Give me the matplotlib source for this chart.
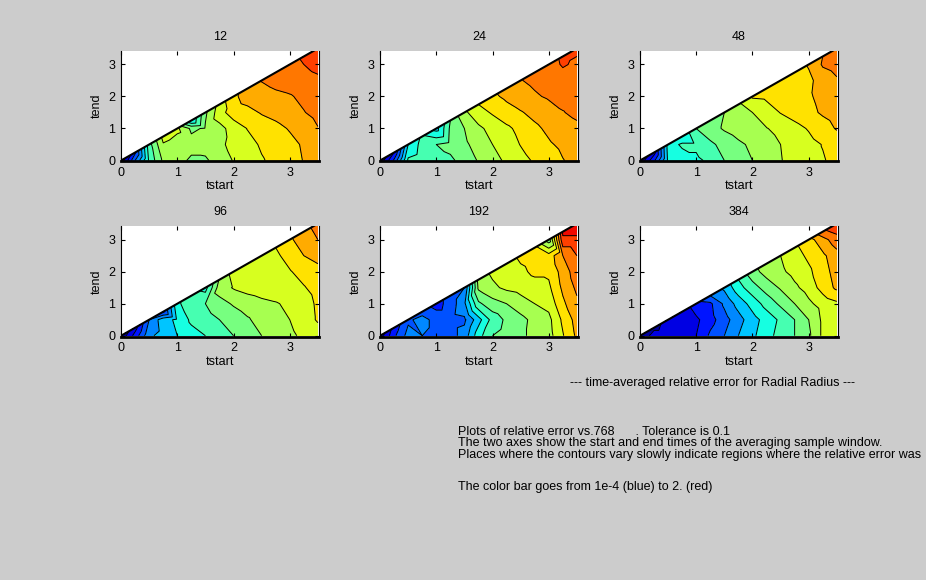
import numpy as np
import matplotlib
matplotlib.use('Agg')
import matplotlib.pyplot as plt
import matplotlib.tri as mtri
from matplotlib.colors import Normalize

plt.rcParams['font.family'] = ['Liberation Sans', 'DejaVu Sans']

# sample points of the averaging window (tstart along x, tend along y)
tstart_grid = [0.0, 0.25, 0.5, 0.75, 1.0, 1.25, 1.5, 1.75, 2.0, 2.25, 2.5, 2.75, 3.0, 3.25, 3.5]
tend_rows = [0.0, 0.5, 1.0, 1.5, 2.0, 2.5, 3.0]
sample_counts = [12, 24, 48, 96, 192, 384]

# log10 of the time-averaged relative error.
# one list per tend row (tstart > tend), plus the values on the diagonal tstart == tend
err12_rows = [
    [-3.0, -2.2, -1.7, -1.65, -1.8, -1.8, -1.6, -1.49, -1.37, -1.27, -1.19, -1.09, -0.99, -0.9],
    [-1.52, -1.6, -1.65, -1.62, -1.55, -1.43, -1.33, -1.22, -1.15, -1.07, -0.97, -0.88],
    [-1.8, -1.72, -1.58, -1.4, -1.24, -1.13, -1.07, -0.98, -0.88, -0.76],
    [-1.35, -1.12, -1.07, -0.98, -0.92, -0.84, -0.76, -0.68],
    [-0.9, -0.85, -0.8, -0.77, -0.7, -0.62],
    [-0.68, -0.64, -0.6, -0.55],
    [-0.5, -0.42],
]
err12_diag = [-3.95, -3.3, -2.1, -1.42, -1.45, -2.5, -1.8, -1.4, -1.05, -0.9, -0.74, -0.68, -0.62, -0.45, -0.38]

err24_rows = [
    [-3.2, -2.2, -2.1, -2.1, -2.05, -1.9, -1.73, -1.58, -1.46, -1.33, -1.22, -1.12, -1.01, -0.93],
    [-2.15, -2.0, -1.92, -1.8, -1.65, -1.5, -1.37, -1.24, -1.12, -1.03, -0.95, -0.86],
    [-1.95, -1.75, -1.55, -1.42, -1.3, -1.18, -1.05, -0.95, -0.85, -0.8],
    [-1.35, -1.22, -1.1, -1.02, -0.93, -0.85, -0.76, -0.7],
    [-0.95, -0.85, -0.78, -0.72, -0.68, -0.65],
    [-0.7, -0.66, -0.62, -0.6],
    [-0.47, -0.55],
]
err24_diag = [-3.95, -3.5, -2.5, -2.2, -2.6, -2.0, -1.55, -1.25, -1.05, -0.9, -0.76, -0.68, -0.62, -0.45, -0.45]

err48_rows = [
    [-3.3, -2.45, -2.4, -2.3, -2.2, -2.0, -1.85, -1.75, -1.62, -1.51, -1.43, -1.33, -1.27, -1.18],
    [-2.2, -2.2, -2.05, -1.92, -1.8, -1.7, -1.6, -1.5, -1.42, -1.33, -1.24, -1.15],
    [-1.85, -1.72, -1.63, -1.57, -1.51, -1.43, -1.33, -1.23, -1.1, -0.98],
    [-1.6, -1.5, -1.37, -1.24, -1.15, -1.06, -0.97, -0.9],
    [-1.2, -1.13, -1.08, -1.03, -0.93, -0.85],
    [-1.1, -1.05, -0.9, -0.78],
    [-0.72, -0.65],
]
err48_diag = [-3.95, -3.6, -2.4, -2.5, -2.0, -1.85, -1.75, -1.55, -1.22, -1.18, -1.12, -1.12, -0.98, -0.75, -0.6]

err96_rows = [
    [-3.4, -2.8, -2.65, -2.5, -2.35, -2.25, -2.1, -2.0, -1.88, -1.75, -1.65, -1.55, -1.45, -1.38],
    [-2.6, -2.45, -2.2, -2.1, -2.0, -1.9, -1.78, -1.65, -1.57, -1.5, -1.38, -1.22],
    [-2.1, -2.0, -1.85, -1.72, -1.62, -1.56, -1.52, -1.45, -1.38, -1.2],
    [-1.62, -1.48, -1.42, -1.38, -1.35, -1.3, -1.27, -1.15],
    [-1.35, -1.32, -1.3, -1.27, -1.15, -1.05],
    [-1.3, -1.15, -1.0, -0.95],
    [-0.85, -0.75],
]
err96_diag = [-3.95, -3.6, -3.0, -3.3, -2.3, -2.1, -2.35, -1.72, -1.4, -1.35, -1.33, -1.25, -1.05, -0.8, -0.7]

err192_rows = [
    [-3.3, -2.9, -3.0, -3.1, -3.1, -2.9, -2.35, -2.0, -1.9, -1.8, -1.68, -1.6, -1.27, -0.95],
    [-2.9, -3.1, -3.1, -3.05, -2.6, -2.15, -1.95, -1.82, -1.68, -1.57, -1.2, -0.9],
    [-3.15, -2.8, -2.05, -1.85, -1.75, -1.62, -1.5, -1.42, -1.05, -0.8],
    [-1.7, -1.55, -1.45, -1.4, -1.35, -1.3, -0.95, -0.7],
    [-1.35, -1.3, -1.2, -1.2, -0.9, -0.6],
    [-1.15, -1.15, -0.75, -0.5],
    [-0.3, -0.3],
]
err192_diag = [-3.9, -3.4, -3.05, -3.1, -3.35, -3.15, -3.0, -1.65, -1.45, -1.38, -1.2, -1.15, -1.9, -0.2, -0.1]

err384_rows = [
    [-3.65, -3.65, -3.62, -3.5, -3.2, -3.0, -2.75, -2.55, -2.35, -2.15, -2.0, -1.8, -1.45, -1.3],
    [-3.7, -3.55, -3.35, -3.1, -2.85, -2.6, -2.4, -2.2, -2.0, -1.75, -1.45, -1.3],
    [-3.3, -2.95, -2.65, -2.4, -2.15, -1.95, -1.75, -1.55, -1.4, -1.3],
    [-2.35, -2.1, -1.9, -1.72, -1.55, -1.4, -1.15, -0.95],
    [-1.65, -1.55, -1.42, -1.3, -1.1, -0.9],
    [-1.35, -1.2, -1.05, -0.85],
    [-0.85, -0.6],
]
err384_diag = [-3.95, -3.8, -3.7, -3.7, -3.35, -3.0, -2.7, -2.25, -1.85, -1.6, -1.5, -1.3, -1.1, -0.55, -0.3]

panels = [
    (err12_rows, err12_diag), (err24_rows, err24_diag), (err48_rows, err48_diag),
    (err96_rows, err96_diag), (err192_rows, err192_diag), (err384_rows, err384_diag),
]


def window_points(rows, diag):
    xs, ys, zs = [], [], []
    for t_end, row in zip(tend_rows, rows):
        starts = [t for t in tstart_grid if t > t_end]
        xs += starts
        ys += [t_end] * len(starts)
        zs += row
    xs += tstart_grid
    ys += tstart_grid
    zs += diag
    return np.array(xs), np.array(ys), np.array(zs)


# color bar runs from 1e-4 (blue) to 2 (red)
norm = Normalize(vmin=np.log10(1e-4), vmax=np.log10(2.0))
levels = np.arange(-4.0, 0.3, 0.25)

fig = plt.figure(figsize=(9.26, 5.8), dpi=100, facecolor='#cccccc')

lefts = [0.1307, 0.4104, 0.6911]
bottoms = [0.7216, 0.4195]
w, h = 0.2138, 0.191

for i, (rows, diag) in enumerate(panels):
    ax = fig.add_axes([lefts[i % 3], bottoms[i // 3], w, h])
    ax.set_facecolor('white')
    x, y, z = window_points(rows, diag)
    tri = mtri.Triangulation(x, y)
    ax.tricontourf(tri, z, levels=levels, cmap='jet', norm=norm)
    ax.tricontour(tri, z, levels=levels, colors='k', linewidths=0.7,
                  linestyles='solid')
    ax.plot(tstart_grid, tstart_grid, color='k', lw=1.5)

    ax.set_xlim(0, 3.52)
    ax.set_ylim(-0.03, 3.43)
    ax.set_xticks([0, 1, 2, 3])
    ax.set_yticks([0, 1, 2, 3])
    ax.tick_params(direction='in', length=3, width=0.8, top=True, right=True,
                   labelsize=9, pad=4, colors='k')
    for side in ['left', 'right']:
        ax.spines[side].set_linewidth(0.8)
    ax.spines['top'].set_visible(False)
    ax.spines['bottom'].set_linewidth(2)

    ax.set_title(str(sample_counts[i]), fontsize=9, pad=8)
    ax.set_xlabel('tstart', fontsize=9, labelpad=1)
    ax.set_ylabel('tend', fontsize=9, labelpad=4)

fig.text(570 / 926, 1 - 383 / 580, '--- time-averaged relative error for Radial Radius ---',
         fontsize=9, ha='left', va='center')
fig.text(458 / 926, 1 - 432 / 580, 'Plots of relative error vs.768      . Tolerance is 0.1',
         fontsize=9, ha='left', va='center')
fig.text(458 / 926, 1 - 443 / 580, 'The two axes show the start and end times of the averaging sample window.',
         fontsize=9, ha='left', va='center')
fig.text(458 / 926, 1 - 455 / 580, 'Places where the contours vary slowly indicate regions where the relative error was',
         fontsize=9, ha='left', va='center')
fig.text(458 / 926, 1 - 487 / 580, 'The color bar goes from 1e-4 (blue) to 2. (red)',
         fontsize=9, ha='left', va='center')

fig.savefig('out.png', dpi=100, facecolor=fig.get_facecolor())
